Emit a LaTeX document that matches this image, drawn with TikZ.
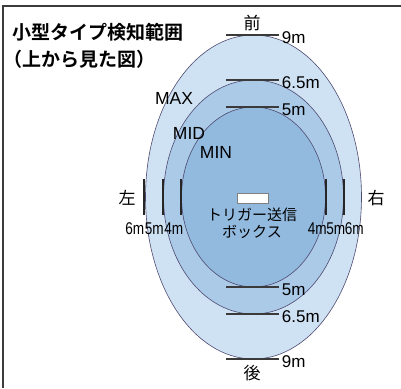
\documentclass[tikz,border=0pt]{standalone}
\usepackage{graphicx}
\usepackage{fontspec}
\setmainfont{Liberation Sans}
\newfontfamily\jp{Noto Sans CJK JP}[BoldFont={Noto Sans CJK JP Bold}]
\usetikzlibrary{positioning}
\definecolor{maxblue}{HTML}{CFE2F3}
\definecolor{midblue}{HTML}{AACAE8}
\definecolor{minblue}{HTML}{92BADF}
\definecolor{rimgray}{HTML}{4E4A70}
\definecolor{tickgray}{HTML}{3A3A3A}
\definecolor{framegray}{HTML}{3C3C3C}
\newcommand{\narrow}[1]{\scalebox{0.8}[1]{#1}}

\begin{document}
\begin{tikzpicture}[x=1pt,y=-1pt,
    rim/.style={draw=rimgray,line width=0.6pt},
    tick/.style={draw=tickgray,line width=1.8pt},
    bar/.style={draw=black!85,line width=1.6pt},
    dist/.style={font=\fontsize{17}{17}\selectfont,inner sep=0pt},
    sidedist/.style={font=\fontsize{17}{17}\selectfont,inner sep=0pt,anchor=east},
    zone/.style={font=\fontsize{17.5}{17.5}\selectfont,inner sep=0pt},
    dir/.style={font=\jp\fontsize{17}{17}\selectfont,inner sep=0pt}]
    \useasboundingbox (0,0) rectangle (401,388);
    % frame
    \draw[line width=1.5pt,color=framegray] (3,388) -- (3,6) -- (401,6);
    % title
    \node[font=\jp\bfseries\fontsize{19}{19}\selectfont,inner sep=0pt,anchor=west] (title) at (12,32) {小型タイプ検知範囲};
    \node[font=\jp\bfseries\fontsize{19}{19}\selectfont,inner sep=0pt,anchor=west] (subtitle) at (3,59) {（上から見た図）};
    % detection zones
    \coordinate (c) at (253.5,197);
    \filldraw[rim,fill=maxblue] (c) ellipse [x radius=108, y radius=162];
    \filldraw[rim,fill=midblue] (c) ellipse [x radius=90, y radius=117];
    \filldraw[rim,fill=minblue] (c) ellipse [x radius=72, y radius=90];
    \node[zone] (max) at (174,98) {MAX};
    \node[zone] (mid) at (189,133) {MID};
    \node[zone] (min) at (216,152) {MIN};
    % front / back distances
    \draw[tick] (226,35) -- (279,35) node[dist,anchor=west,xshift=2pt,yshift=-3pt] (f9) {9m};
    \draw[tick] (226,80) -- (279,80) node[dist,anchor=west,xshift=2pt,yshift=-3pt] (f65) {6.5m};
    \draw[tick] (226,107) -- (279,107) node[dist,anchor=west,xshift=2pt,yshift=-3pt] (f5) {5m};
    \draw[tick] (226,287) -- (279,287) node[dist,anchor=west,xshift=2pt,yshift=-3pt] (b5) {5m};
    \draw[tick] (226,314) -- (279,314) node[dist,anchor=west,xshift=2pt,yshift=-3pt] (b65) {6.5m};
    \draw[tick] (226,359) -- (279,359) node[dist,anchor=west,xshift=2pt,yshift=-3pt] (b9) {9m};
    \node[dir] (front) at (252,23) {前};
    \node[dir] (back) at (252,373) {後};
    % side distances
    \draw[bar] (144,179) -- (144,215);
    \draw[bar] (163,179) -- (163,215);
    \draw[bar] (181,179) -- (181,215);
    \draw[bar] (326,179) -- (326,215);
    \draw[bar] (344,179) -- (344,215);
    \node[sidedist] (l6) at (144.5,229) {\narrow{6m}};
    \node[sidedist] (l5) at (164,229) {\narrow{5m}};
    \node[sidedist] (l4) at (183.5,229) {\narrow{4m}};
    \node[sidedist] (r4) at (327,229) {\narrow{4m}};
    \node[sidedist] (r5) at (345.5,229) {\narrow{5m}};
    \node[sidedist] (r6) at (364,229) {\narrow{6m}};
    \node[dir] (left) at (127,198) {左};
    \node[dir] (right) at (376,198) {右};
    % trigger box
    \filldraw[fill=white,draw=gray,line width=0.5pt] (237,193) rectangle (268,203);
    \node[font=\jp\fontsize{15}{17}\selectfont,inner sep=0pt,align=center] (box) at (252,223) {トリガー送信\\ボックス};
\end{tikzpicture}
\end{document}
